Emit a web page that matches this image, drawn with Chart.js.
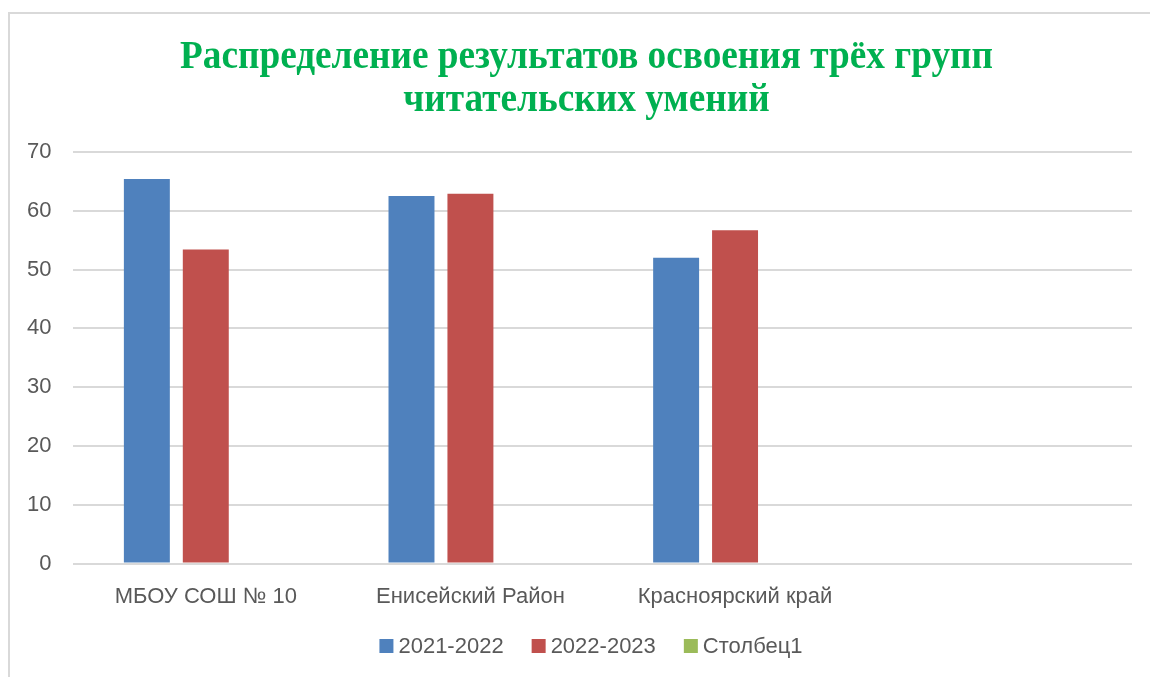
<!DOCTYPE html>
<html>
<head>
<meta charset="utf-8">
<script src="https://cdn.jsdelivr.net/npm/chart.js@4.4.1/dist/chart.umd.min.js"></script>
<style>
  html, body { margin: 0; padding: 0; background: #ffffff; }
  #wrap { width: 1150px; height: 677px; position: relative; }
</style>
</head>
<body>
<div id="wrap"><canvas id="c" width="1150" height="677"></canvas></div>
<script>
const titleLines = ["Распределение результатов освоения трёх групп", "читательских умений"];
const categories = ["МБОУ СОШ № 10", "Енисейский Район", "Красноярский край", ""];
const seriesNames = ["2021-2022", "2022-2023", "Столбец1"];
const values2021 = [65.4, 62.5, 52.0, null];
const values2022 = [53.4, 62.9, 56.7, null];
const valuesCol1 = [null, null, null, null];
const yTicks = [0, 10, 20, 30, 40, 50, 60, 70];
const colors = ["#4F81BD", "#C0504D", "#9BBB59"];
const textFont = '"Liberation Sans", Arial, sans-serif';

const frameTitleLegend = {
  id: 'frameTitleLegend',
  beforeDraw(chart) {
    const ctx = chart.ctx;
    ctx.save();
    ctx.fillStyle = '#ffffff';
    ctx.fillRect(0, 0, chart.width, chart.height);
    ctx.strokeStyle = '#d9d9d9';
    ctx.lineWidth = 2;
    ctx.strokeRect(9, 13, 1300, 800);
    ctx.restore();
  },
  afterDraw(chart) {
    const ctx = chart.ctx;
    ctx.save();
    // title
    ctx.font = 'bold 41px "Liberation Serif", "Times New Roman", serif';
    ctx.fillStyle = '#00B050';
    ctx.textBaseline = 'alphabetic';
    ctx.textAlign = 'center';
    const w1 = ctx.measureText(titleLines[0]).width;
    const sx = 813 / w1;
    const cx = 586.5;
    const baselines = [68, 111];
    titleLines.forEach((t, i) => {
      ctx.save();
      ctx.translate(cx, baselines[i]);
      ctx.scale(sx, 1);
      ctx.fillText(t, 0, 0);
      ctx.restore();
    });
    // legend
    ctx.font = '22px ' + textFont;
    ctx.textAlign = 'left';
    ctx.textBaseline = 'middle';
    const box = 14, gapText = 5, gapItem = 28, cy = 646, centerX = 591;
    const items = chart.data.datasets.map(ds => ({
      text: ds.label, color: ds.backgroundColor, w: box + gapText + ctx.measureText(ds.label).width
    }));
    const total = items.reduce((s, it) => s + it.w, 0) + gapItem * (items.length - 1);
    let x = centerX - total / 2;
    items.forEach(it => {
      ctx.fillStyle = it.color;
      ctx.fillRect(x, cy - box / 2, box, box);
      ctx.fillStyle = '#595959';
      ctx.fillText(it.text, x + box + gapText, cy + 1);
      x += it.w + gapItem;
    });
    ctx.restore();
  }
};

new Chart(document.getElementById('c'), {
  type: 'bar',
  data: {
    labels: categories,
    datasets: [
      { label: seriesNames[0], data: values2021, backgroundColor: colors[0] },
      { label: seriesNames[1], data: values2022, backgroundColor: colors[1] },
      { label: seriesNames[2], data: valuesCol1, backgroundColor: colors[2] }
    ]
  },
  options: {
    responsive: false,
    animation: false,
    devicePixelRatio: 1,
    categoryPercentage: 0.668,
    barPercentage: 0.78,
    layout: { padding: { top: 152, left: 5, right: 18, bottom: 47 } },
    plugins: {
      title: { display: false },
      tooltip: { enabled: false },
      legend: { display: false }
    },
    scales: {
      x: {
        grid: { display: false, drawTicks: false },
        border: { display: false },
        ticks: {
          color: '#595959',
          padding: 20,
          maxRotation: 0,
          font: { family: textFont, size: 22 }
        }
      },
      y: {
        min: 0,
        max: 70,
        afterBuildTicks(scale) { scale.ticks = yTicks.map(v => ({ value: v })); },
        grid: { color: '#d9d9d9', lineWidth: 2, drawTicks: false },
        border: { display: false },
        ticks: {
          color: '#595959',
          padding: 22,
          font: { family: textFont, size: 22 }
        }
      }
    }
  },
  plugins: [frameTitleLegend]
});
</script>
</body>
</html>
